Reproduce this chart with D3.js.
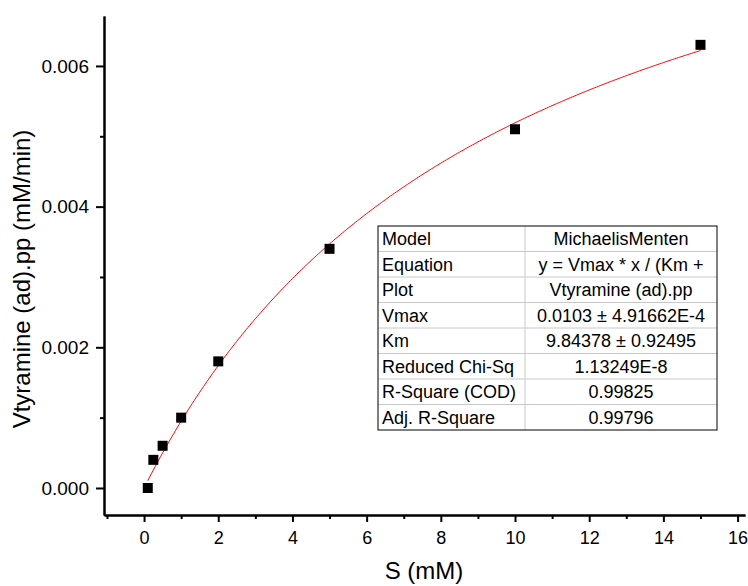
<!DOCTYPE html>
<html>
<head>
<meta charset="utf-8">
<title>Michaelis-Menten fit</title>
<script src="https://cdn.jsdelivr.net/npm/d3@7"></script>
<style>
  html, body { margin: 0; padding: 0; background: #fff; }
  svg { display: block; font-family: "Liberation Sans", Arial, sans-serif; }
</style>
</head>
<body>
<svg id="mainsvg" width="748" height="586"></svg>
<script>
// measured substrate concentrations (mM) and rates (mM/min)
const sConc = [0.1, 0.25, 0.5, 1, 2, 5, 10, 15];
const vRate = [0.0, 0.0004, 0.0006, 0.001, 0.0018, 0.0034, 0.0051, 0.0063];
// fit parameters from the report table
const vmax = 0.0103;
const km = 9.84378;
const xTicks = [0, 2, 4, 6, 8, 10, 12, 14, 16];
const xMinor = [-1, 1, 3, 5, 7, 9, 11, 13, 15];
const yTicks = [0, 0.002, 0.004, 0.006];
const yMinor = [0.001, 0.003, 0.005];
const tableKeys = ["Model", "Equation", "Plot", "Vmax", "Km", "Reduced Chi-Sq", "R-Square (COD)", "Adj. R-Square"];
const tableVals = ["MichaelisMenten", "y = Vmax * x / (Km +", "Vtyramine (ad).pp", "0.0103 \u00b1 4.91662E-4",
  "9.84378 \u00b1 0.92495", "1.13249E-8", "0.99825", "0.99796"];

const svg = d3.select('#mainsvg');
const xScale = d3.scaleLinear().domain([-1.08, 16.2]).range([104, 745]);
const yScale = d3.scaleLinear().domain([-0.000384, 0.00671]).range([515, 16]);

// fitted curve
const curveX = d3.range(0.1, 15.0001, 0.05);
const line = d3.line().x(d => xScale(d)).y(d => yScale(vmax * d / (km + d)));
svg.append('path').datum(curveX).attr('d', line)
  .attr('fill', 'none').attr('stroke', '#ff0000').attr('stroke-width', 1);

// points
svg.selectAll('rect.pt').data(sConc).join('rect').attr('class', 'pt')
  .attr('x', (d, i) => xScale(d) - 5).attr('y', (d, i) => yScale(vRate[i]) - 5)
  .attr('width', 10).attr('height', 10).attr('fill', '#000');

// axes
const fmtY = d3.format('.3f');
const xAxisG = svg.append('g').attr('transform', 'translate(0,515)')
  .call(d3.axisBottom(xScale).tickValues(xTicks).tickSize(7).tickPadding(9).tickSizeOuter(0));
const xMinorG = svg.append('g').attr('transform', 'translate(0,515)')
  .call(d3.axisBottom(xScale).tickValues(xMinor).tickSize(4).tickFormat('').tickSizeOuter(0));
const yAxisG = svg.append('g').attr('transform', 'translate(104,0)')
  .call(d3.axisLeft(yScale).tickValues(yTicks).tickFormat(fmtY).tickSize(8).tickPadding(7).tickSizeOuter(0));
const yMinorG = svg.append('g').attr('transform', 'translate(104,0)')
  .call(d3.axisLeft(yScale).tickValues(yMinor).tickSize(4).tickFormat('').tickSizeOuter(0));

[xAxisG, xMinorG, yAxisG, yMinorG].forEach(g => {
  g.selectAll('path.domain').attr('stroke', '#000').attr('stroke-width', 2);
  g.selectAll('.tick line').attr('stroke', '#000').attr('stroke-width', 2);
  g.selectAll('.tick text').attr('fill', '#000').style('font-size', '18px')
    .style('font-family', '"Liberation Sans", Arial, sans-serif');
});
yAxisG.selectAll('.tick text').style('font-size', '19px');

// axis titles
svg.append('text').attr('x', 424).attr('y', 579).attr('text-anchor', 'middle')
  .style('font-size', '24px').text('S (mM)');
svg.append('text').attr('transform', 'translate(30,279) rotate(-90)').attr('text-anchor', 'middle')
  .style('font-size', '24px').text('Vtyramine (ad).pp (mM/min)');

// fit report table
const tX0 = 378, tX1 = 525, tX2 = 717, tY0 = 226, rowH = 25.5;
const table = svg.append('g');
table.append('rect').attr('x', tX0).attr('y', tY0).attr('width', tX2 - tX0).attr('height', rowH * tableKeys.length)
  .attr('fill', '#fff').attr('stroke', 'none');
tableKeys.forEach((k, i) => {
  if (i > 0) {
    table.append('line').attr('x1', tX0).attr('x2', tX2).attr('y1', tY0 + i * rowH).attr('y2', tY0 + i * rowH)
      .attr('stroke', '#c8c8c8').attr('stroke-width', 1);
  }
  table.append('text').attr('x', tX0 + 4).attr('y', tY0 + i * rowH + rowH / 2).attr('dy', '0.36em')
    .style('font-size', '18px').text(k);
  table.append('text').attr('x', (tX1 + tX2) / 2).attr('y', tY0 + i * rowH + rowH / 2).attr('dy', '0.36em')
    .attr('text-anchor', 'middle').style('font-size', '18px').text(tableVals[i]);
});
table.append('line').attr('x1', tX1).attr('x2', tX1).attr('y1', tY0).attr('y2', tY0 + rowH * tableKeys.length)
  .attr('stroke', '#c8c8c8').attr('stroke-width', 1);
table.append('rect').attr('x', tX0).attr('y', tY0).attr('width', tX2 - tX0).attr('height', rowH * tableKeys.length)
  .attr('fill', 'none').attr('stroke', '#000').attr('stroke-width', 1);
</script>
</body>
</html>
